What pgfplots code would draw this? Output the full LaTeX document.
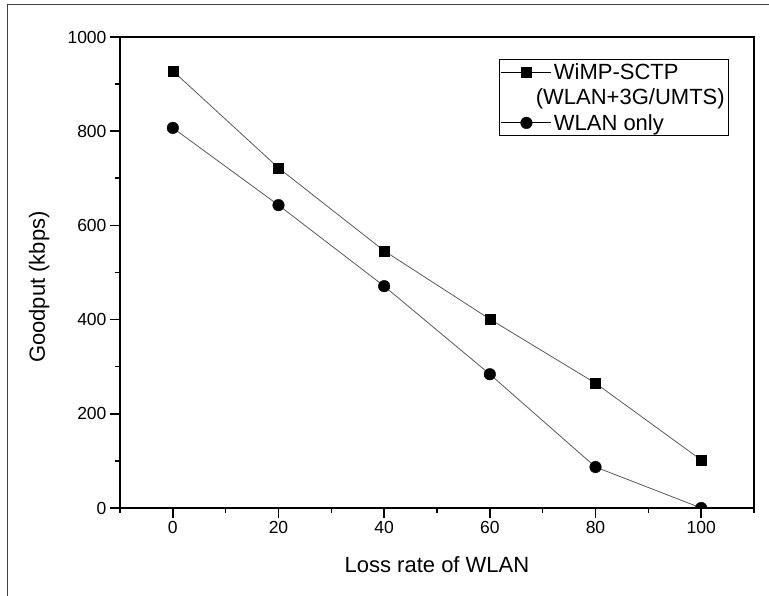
\documentclass[border=0pt]{standalone}
\usepackage{pgfplots}
\pgfplotsset{compat=1.18}
\usepackage{fontspec}
\setmainfont{Liberation Sans}
\begin{document}
\begin{tikzpicture}
\path[use as bounding box] (-120pt,-88pt) rectangle (649pt,508pt);
\draw[line width=1pt, black!75] (-112pt,-100pt) -- (-112pt,503pt) -- (660pt,503pt);
\begin{axis}[
  at={(0pt,0pt)}, anchor=south west, scale only axis,
  width=634pt, height=471pt,
  xmin=-10, xmax=110, ymin=0, ymax=1000,
  xtick={0,20,...,100}, minor xtick={-10,10,...,110},
  ytick={0,200,...,1000}, minor ytick={100,300,...,900},
  tick align=outside, tick pos=left,
  major tick length=10pt, minor tick length=5pt,
  axis line style={line width=1.6pt},
  every tick/.style={line width=1.6pt, black},
  /pgf/number format/assume math mode=true,
  /pgf/number format/1000 sep={},
  scaled ticks=false,
  tick label style={font=\fontsize{17.5}{20}\selectfont},
  xlabel={Loss rate of WLAN}, ylabel={Goodput (kbps)},
  xlabel style={at={(axis description cs:0.5,-0.138)}, anchor=base, font=\fontsize{22}{26}\selectfont},
  ylabel style={at={(axis description cs:-0.1183,0.469)}, anchor=base, font=\fontsize{22}{26}\selectfont},
  clip marker paths=true,
  legend style={at={(axis description cs:1,1)}, anchor=north east,
    xshift=-25pt, yshift=-22pt, draw=black, line width=0.6pt,
    font=\fontsize{22}{26}\selectfont, inner sep=2pt, row sep=4pt},
  legend cell align=left,
  legend image code/.code={\draw[mark repeat=2,mark phase=2,#1,black] plot coordinates {(0pt,0pt)(25pt,0pt)(50pt,0pt)};},
]
\addplot[black!65, line width=0.8pt, mark=square*, mark size=5pt,
  mark options={fill=black, draw=black, line width=0.4pt}]
  coordinates {(0,928)(20,722)(40,546)(60,401)(80,265)(100,102)};
\addlegendentry{WiMP-SCTP}
\addlegendimage{empty legend}
\addlegendentry{\hspace*{-18pt}(WLAN+3G/UMTS)}
\addplot[black!65, line width=0.8pt, mark=*, mark size=5.8pt,
  mark options={fill=black, draw=black, line width=0.4pt}]
  coordinates {(0,807)(20,643)(40,471)(60,284)(80,87)(100,0)};
\addlegendentry{WLAN only}
\end{axis}
\end{tikzpicture}
\end{document}
